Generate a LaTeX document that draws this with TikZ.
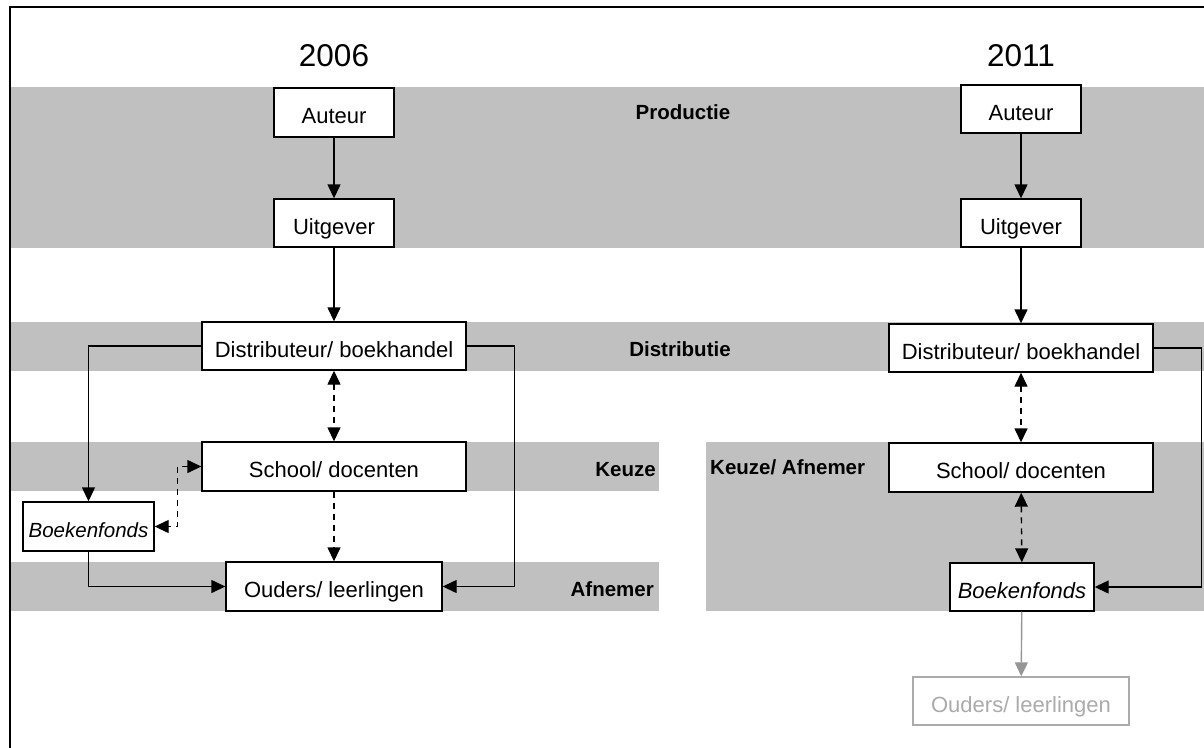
\documentclass[tikz,border=0pt]{standalone}
\usepackage{fontspec}
\setmainfont{Liberation Sans}
\usetikzlibrary{arrows.meta}
\definecolor{band}{RGB}{192,192,192}
\definecolor{ghost}{RGB}{150,150,150}
\begin{document}
\begin{tikzpicture}[x=1pt,y=-1pt,
  box/.style={draw=black,fill=white,line width=1.4pt,inner sep=0pt,
    text height=22pt,text depth=0pt,
    font=\fontsize{22}{24}\selectfont},
  lbl/.style={font=\fontsize{20.5}{22}\selectfont\bfseries,inner sep=0pt},
  yr/.style={font=\fontsize{31.5}{33}\selectfont,inner sep=0pt},
  tip/.tip={Triangle[length=14pt,width=13pt]},
  conn/.style={line width=1.4pt,-tip},
  dconn/.style={line width=1.4pt,dash pattern=on 6pt off 5pt,tip-tip},
  dconnone/.style={line width=1.4pt,dash pattern=on 6pt off 5pt,-tip},
  bandfill/.style={fill=band,draw=none}]
\useasboundingbox (0,0) rectangle (1204,747);
\fill[white] (0,0) rectangle (1204,747);
% bands
\path[bandfill] (10,87) rectangle (1204,248);
\path[bandfill] (10,322) rectangle (1204,371);
\path[bandfill] (10,442) rectangle (659,491);
\path[bandfill] (10,562) rectangle (659,611);
\path[bandfill] (706,442) rectangle (1204,611);
% frame
\draw[line width=2.6pt] (1205,7) -- (10,7) -- (10,748);
% labels
\node[yr] (y1) at (334,56) {2006};
\node[yr] (y2) at (1021,56) {2011};
\node[lbl] (lp) at (683,112) {Productie};
\node[lbl] (ld) at (680,349) {Distributie};
\node[lbl,anchor=east] (lk) at (656,470) {Keuze};
\node[lbl,anchor=east] (la) at (654,589) {Afnemer};
\node[lbl,anchor=west] (lka) at (710,467) {Keuze/ Afnemer};
% 2006 boxes
\node[box,minimum width=120pt,minimum height=49pt] (A1) at (334,112.5) {Auteur};
\node[box,minimum width=120pt,minimum height=48pt] (U1) at (334,223) {Uitgever};
\node[box,minimum width=264pt,minimum height=48pt] (D1) at (334,346) {Distributeur/ boekhandel};
\node[box,minimum width=264pt,minimum height=49pt] (S1) at (334,466.5) {School/ docenten};
\node[box,minimum width=131pt,minimum height=49pt] (B1) at (88.5,526.5) {\fontsize{20.5}{22}\selectfont\itshape Boekenfonds};
\node[box,minimum width=216pt,minimum height=49pt] (O1) at (334,586.5) {Ouders/ leerlingen};
% 2011 boxes
\node[box,minimum width=120pt,minimum height=48pt] (A2) at (1021,109) {Auteur};
\node[box,minimum width=120pt,minimum height=48pt] (U2) at (1021,223) {Uitgever};
\node[box,minimum width=264pt,minimum height=48pt] (D2) at (1021,348) {Distributeur/ boekhandel};
\node[box,minimum width=264pt,minimum height=49pt] (S2) at (1021,467.5) {School/ docenten};
\node[box,minimum width=144pt,minimum height=48pt] (B2) at (1022,587) {\itshape Boekenfonds};
\node[box,draw=ghost!80,text=ghost!80,minimum width=216pt,minimum height=48pt] (O2) at (1021,701) {Ouders/ leerlingen};
% 2006 connectors
\draw[conn] (A1) -- (U1);
\draw[conn] (U1) -- (D1);
\draw[conn] (D1.west) -| (B1.north);
\draw[conn] (D1.east) -- ++(48,0) |- (O1.east);
\draw[conn] (B1.south) |- (O1.west);
\draw[dconn] (D1) -- (S1);
\draw[dconnone] (S1) -- (O1);
\draw[dconn] (S1.west) -- ++(-24,0) |- (B1.east);
% 2011 connectors
\draw[conn] (A2) -- (U2);
\draw[conn] (U2) -- (D2);
\draw[dconn] (D2) -- (S2);
\draw[dconn] (S2) -- (B2);
\draw[conn] (D2.east) -- ++(48,0) |- (B2.east);
\draw[conn,draw=ghost,fill=ghost] (B2) -- (O2);
\end{tikzpicture}
\end{document}
